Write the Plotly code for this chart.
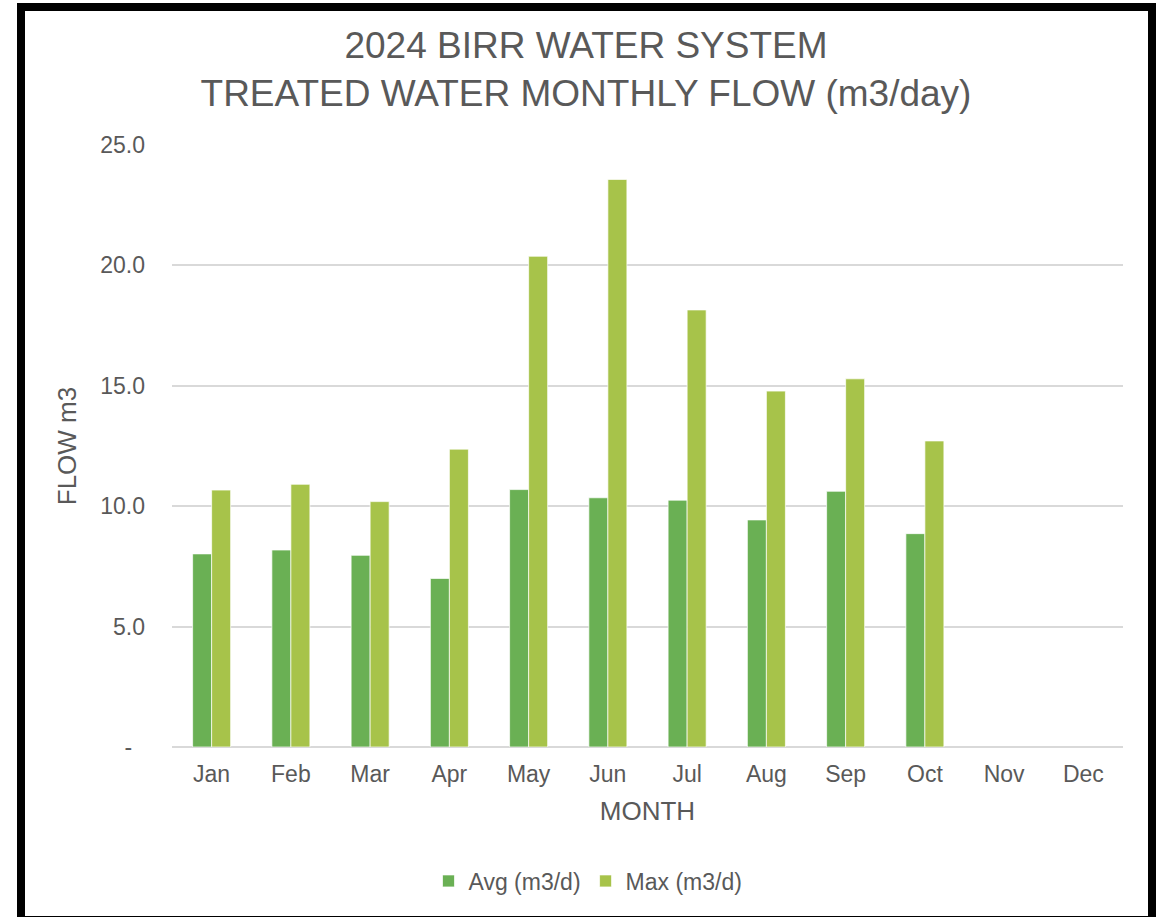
import plotly.graph_objects as go

months = ["Jan", "Feb", "Mar", "Apr", "May", "Jun", "Jul", "Aug", "Sep", "Oct", "Nov", "Dec"]
avg_flow = [8.02, 8.18, 7.96, 7.00, 10.69, 10.35, 10.25, 9.43, 10.62, 8.86, None, None]
max_flow = [10.67, 10.91, 10.19, 12.37, 20.38, 23.57, 18.15, 14.78, 15.29, 12.71, None, None]
y_tickvals = [0, 5, 10, 15, 20, 25]
y_ticktext = ["-\u00a0\u00a0", "5.0", "10.0", "15.0", "20.0", "25.0"]

FONT = "Liberation Sans, Arial, sans-serif"
GREY = "#595959"
W, H = 1165, 917
L, R, T, B = 172, 42, 145, 170

fig = go.Figure()
fig.add_trace(go.Bar(x=months, y=avg_flow, name="Avg (m3/d)",
                     marker=dict(color="#6AB054", line=dict(color="rgba(255,255,255,0.7)", width=1))))
fig.add_trace(go.Bar(x=months, y=max_flow, name="Max (m3/d)",
                     marker=dict(color="#A7C34A", line=dict(color="rgba(255,255,255,0.7)", width=1))))

pw, ph = W - L - R, H - T - B
def px(x):
    return (x - L) / pw
def py(y):
    return (H - B - y) / ph

fig.add_shape(type="rect", xref="paper", yref="paper",
              x0=px(21), x1=px(1152), y0=py(920), y1=py(7),
              line=dict(color="black", width=8), fillcolor="rgba(0,0,0,0)", layer="above")

fig.update_layout(
    width=W, height=H,
    margin=dict(l=L, r=R, t=T, b=B, pad=0),
    paper_bgcolor="white", plot_bgcolor="white",
    font=dict(family=FONT, color=GREY, size=23),
    barmode="group", bargap=0.52, bargroupgap=0,
    title=dict(text="2024 BIRR WATER SYSTEM<br>TREATED WATER MONTHLY FLOW (m3/day)",
               font=dict(size=37, color=GREY, family=FONT),
               x=586 / W, xanchor="center", xref="container",
               y=1 - 58 / H, yanchor="top", yref="container"),
    xaxis=dict(showgrid=False, showline=False, ticks="", tickfont=dict(size=23, color=GREY),
               ticklabelstandoff=11,
               title=dict(text="MONTH", font=dict(size=26, color=GREY), standoff=15)),
    yaxis=dict(range=[0, 25], tickvals=y_tickvals, ticktext=y_ticktext,
               showgrid=True, gridcolor="#D9D9D9", gridwidth=1.5,
               zeroline=True, zerolinecolor="#D9D9D9", zerolinewidth=1.5,
               showline=False, ticks="", ticklabelstandoff=26,
               tickfont=dict(size=23, color=GREY),
               title=dict(text="FLOW m3", font=dict(size=26, color=GREY), standoff=16)),
    legend=dict(orientation="h", xref="container", yref="container",
                x=588 / W, xanchor="center", y=1 - 881 / H, yanchor="middle",
                font=dict(size=23, color=GREY), itemwidth=30, traceorder="normal"),
    showlegend=True,
)

fig.write_html("out.html", config={"displayModeBar": False},
               post_script="document.body.style.margin='0px';document.body.style.overflow='hidden';")
